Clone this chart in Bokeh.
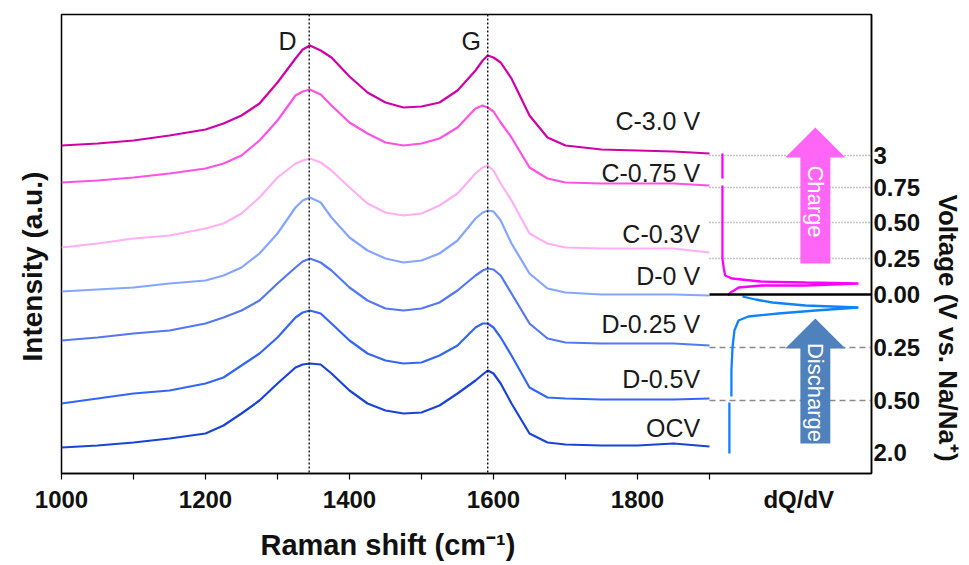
import math
from bokeh.plotting import figure
from bokeh.models import Range1d, FixedTicker, Label, Span, Title
from bokeh.embed import file_html
from bokeh.resources import INLINE

# ---------------- data ----------------
raman_shift = [1000, 1050, 1100, 1150, 1200, 1225, 1250, 1275, 1300, 1325, 1335, 1345,
               1360, 1375, 1400, 1425, 1450, 1475, 1500, 1525, 1550, 1575, 1585, 1592,
               1600, 1610, 1625, 1650, 1675, 1700, 1750, 1800, 1850, 1900]

series_names = ["C-3.0 V", "C-0.75 V", "C-0.3V", "D-0 V", "D-0.25 V", "D-0.5V", "OCV"]

c30 = [328, 330, 333, 338, 344, 350, 358, 370, 391, 415, 424, 428, 423, 416, 397, 381, 371,
       366, 367, 371, 383, 403, 413, 418, 416, 411, 395, 358, 336, 328, 324, 323, 322, 320]
c075 = [291, 293, 296, 300, 305, 310, 318, 333, 353, 378, 382, 384, 379, 368, 351, 340, 331,
        328, 330, 335, 346, 365, 368, 366, 362, 351, 336, 306, 295, 291, 290, 290, 290, 288]
c03 = [226, 230, 235, 238, 245, 250, 260, 276, 296, 310, 313, 315, 311, 303, 286, 270, 261,
       258, 260, 268, 280, 300, 306, 308, 303, 290, 273, 240, 230, 226, 225, 225, 225, 221]
d0 = [182, 184, 186, 190, 193, 198, 206, 220, 240, 266, 273, 276, 271, 256, 236, 223, 215,
      211, 213, 220, 233, 255, 261, 263, 262, 253, 230, 200, 185, 181, 179, 179, 179, 178]
d025 = [133, 136, 140, 143, 150, 156, 163, 173, 190, 206, 212, 215, 211, 203, 186, 173, 165,
        163, 165, 171, 183, 198, 203, 205, 204, 198, 180, 150, 135, 131, 130, 130, 130, 128]
d05 = [70, 75, 80, 83, 90, 96, 108, 120, 136, 156, 161, 163, 160, 150, 133, 120, 113,
       110, 111, 118, 128, 146, 150, 150, 146, 136, 118, 86, 76, 75, 74, 74, 74, 75]
ocv = [26, 28, 31, 35, 40, 48, 60, 73, 90, 106, 109, 110, 109, 100, 83, 70, 63,
       60, 61, 68, 80, 93, 99, 103, 100, 90, 70, 40, 31, 29, 28, 28, 30, 27]
spectra = [c30, c075, c03, d0, d025, d05, ocv]

d_band = 1344
g_band = 1592

x_label_ticks = [1000, 1200, 1400, 1600, 1800, 2024]
x_label_texts = ["1000", "1200", "1400", "1600", "1800", "dQ/dV"]
x_mark_ticks = [1000, 1100, 1200, 1300, 1400, 1500, 1600, 1700, 1800, 1900]

# voltage levels (positions on the intensity scale) and their labels
voltage_pos = [318, 286, 251, 215, 179, 126, 73, 21]
voltage_labels = ["3", "0.75", "0.50", "0.25", "0.00", "0.25", "0.50", "2.0"]

# dQ/dV curves (normalised dQ/dV, voltage position)
charge_dq_a = [0.0, 0.0]
charge_v_a = [320, 295]
charge_dq_b = [0.0, 0.0, 0.01, 0.02, 0.07, 0.28, 0.61, 1.0, 0.61, 0.29, 0.12, 0.06, 0.04]
charge_v_b = [288, 215, 205, 198, 195, 192, 191, 190, 188, 188, 186, 181, 178]
dis_dq_a = [0.147, 0.243, 0.368, 0.61, 1.0, 0.684, 0.41, 0.19, 0.118, 0.088, 0.074, 0.066, 0.066]
dis_v_a = [177, 174, 171, 168, 166, 163, 160, 157, 153, 143, 126, 103, 77]
dis_dq_b = [0.051, 0.051]
dis_v_b = [71, 20]

# ---------------- styling / layout ----------------
colors = ["#d000a8", "#ff52e4", "#ffb0f5", "#85a5ff", "#5577f2", "#3366f5", "#1a44d6"]
label_pos_y = [353, 301, 240, 198, 150, 95, 46]
label_x = 1887
FONT = "Liberation Sans"
DARK = "#111111"

p = figure(frame_width=810, frame_height=459,
           x_range=Range1d(1000, 2125), y_range=Range1d(0, 459),
           y_axis_location="right",
           min_border_left=61, min_border_top=14, min_border_right=98, min_border_bottom=92,
           output_backend="svg", toolbar_location=None)
p.extra_x_ranges = {"dqdv": Range1d(-4.860, 1.096)}
p.grid.visible = False
p.outline_line_color = "black"
p.outline_line_width = 1.5
p.outline_line_alpha = 1.0
p.background_fill_color = "white"
p.border_fill_color = "white"

xa = p.xaxis[0]
xa.ticker = FixedTicker(ticks=x_label_ticks, minor_ticks=x_mark_ticks)
xa.major_label_overrides = {t: l for t, l in zip(x_label_ticks, x_label_texts)}
xa.major_tick_out = 0
xa.major_tick_in = 0
xa.major_tick_line_color = None
xa.minor_tick_out = 6
xa.minor_tick_in = 0
xa.minor_tick_line_color = "black"
xa.minor_tick_line_width = 1.2
xa.axis_line_width = 1.5
xa.major_label_text_font = FONT
xa.major_label_text_font_style = "bold"
xa.major_label_text_font_size = "24px"
xa.major_label_text_color = DARK
xa.major_label_standoff = 6

ya = p.yaxis[0]
ya.ticker = FixedTicker(ticks=voltage_pos, minor_ticks=[])
ya.major_label_overrides = {t: l for t, l in zip(voltage_pos, voltage_labels)}
ya.major_tick_out = 0
ya.major_tick_in = 0
ya.minor_tick_out = 0
ya.axis_line_width = 1.5
ya.major_label_text_font = FONT
ya.major_label_text_font_style = "bold"
ya.major_label_text_font_size = "24px"
ya.major_label_text_color = DARK
ya.major_label_standoff = 2

# axis titles
p.add_layout(Title(text="Raman shift (cm\u207b\u00b9)", align="left", offset=199,
                   text_font=FONT, text_font_size="29px", text_font_style="bold",
                   text_color=DARK, standoff=22), "below")
p.add_layout(Title(text="Intensity (a.u.)", align="left", offset=112,
                   text_font=FONT, text_font_size="28px", text_font_style="bold",
                   text_color=DARK, standoff=27), "left")
p.add_layout(Title(text="Voltage (V vs. Na/Na\u207a)", align="left", offset=180,
                   text_font=FONT, text_font_size="26px", text_font_style="bold",
                   text_color=DARK, standoff=18), "right")

# band markers
for b in (d_band, g_band):
    p.add_layout(Span(location=b, dimension="height", line_color="black",
                      line_dash="2 2", line_width=1.3))

# spectra
for ys, c in zip(spectra, colors):
    p.line(raman_shift, ys, line_color=c, line_width=2.2)

# voltage reference lines in the dQ/dV panel
x_end = p.x_range.end
for pos in voltage_pos[:4]:
    p.segment(x0=[raman_shift[-1]], y0=[pos], x1=[x_end], y1=[pos],
              line_color="#8a8a8a", line_dash="1 2", line_width=1.3)
for pos in voltage_pos[5:7]:
    p.segment(x0=[raman_shift[-1]], y0=[pos], x1=[x_end], y1=[pos],
              line_color="#8a8a8a", line_dash="6 4", line_width=1.5)


def arrow_outline(xc, y_bottom, y_head, y_tip, shaft_hw, head_hw):
    xs = [xc - shaft_hw, xc + shaft_hw, xc + shaft_hw, xc + head_hw, xc,
          xc - head_hw, xc - shaft_hw]
    ys = [y_bottom, y_bottom, y_head, y_head, y_tip, y_head, y_head]
    return xs, ys


ax, ay = arrow_outline(2047, 210, 316, 346, 20.8, 41.7)
p.patch(ax, ay, fill_color="#ff66f6", line_color=None)
ax, ay = arrow_outline(2047, 30, 125, 155, 20.8, 41.7)
p.patch(ax, ay, fill_color="#4f81bd", line_color=None)

# dQ/dV curves
p.line(charge_dq_a, charge_v_a, x_range_name="dqdv", line_color="#ff00ff", line_width=2.3)
p.line(charge_dq_b, charge_v_b, x_range_name="dqdv", line_color="#ff00ff", line_width=2.3)
p.line(dis_dq_a, dis_v_a, x_range_name="dqdv", line_color="#0f82ff", line_width=2.3)
p.line(dis_dq_b, dis_v_b, x_range_name="dqdv", line_color="#0f82ff", line_width=2.3)

# zero line
p.segment(x0=[raman_shift[-1]], y0=[voltage_pos[4]], x1=[x_end], y1=[voltage_pos[4]],
          line_color="black", line_width=2.5)


def lab(x, y, text, size, align="center", angle=0.0, color="#1a1a1a"):
    p.add_layout(Label(x=x, y=y, text=text, text_font=FONT, text_font_size=size,
                       text_align=align, text_baseline="middle",
                       angle=angle, text_color=color))


for name, yy in zip(series_names, label_pos_y):
    lab(label_x, yy, name, "25px", align="right")

lab(1314, 433, "D", "25px")
lab(1569, 433, "G", "25px")
lab(2047, 272, "Charge", "22px", angle=-math.pi / 2, color="white")
lab(2047, 81, "Discharge", "22px", angle=-math.pi / 2, color="white")

open("out.html", "w").write(file_html(p, INLINE))
